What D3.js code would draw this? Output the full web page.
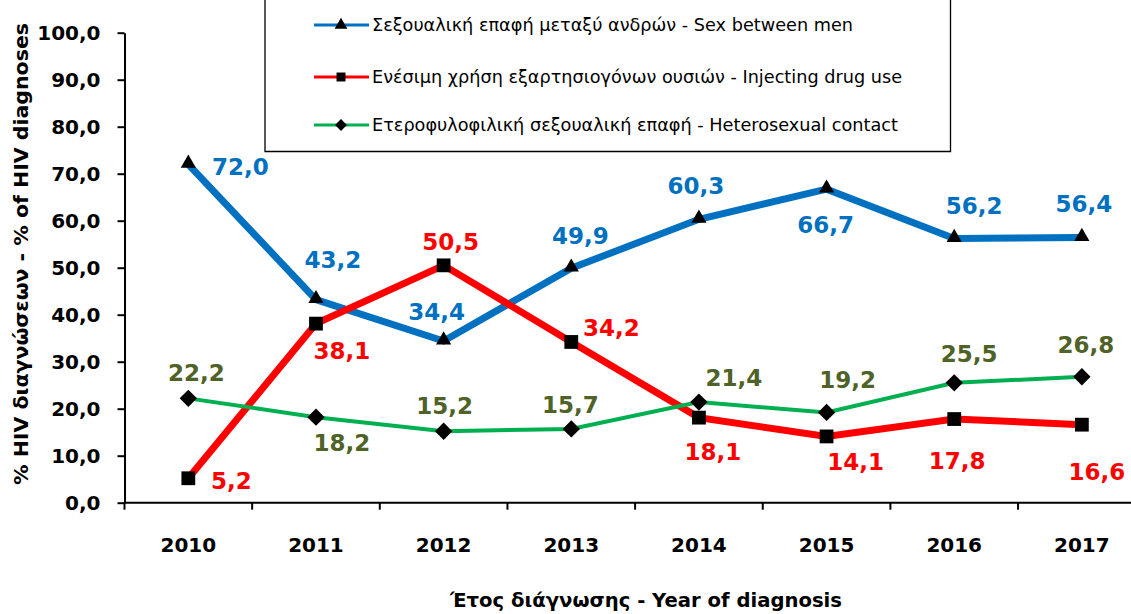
<!DOCTYPE html>
<html>
<head>
<meta charset="utf-8">
<script src="https://cdn.jsdelivr.net/npm/d3@7"></script>
<style>
  body { margin: 0; background: #fff; }
  svg { display: block; }
</style>
</head>
<body>
<div id="chart"></div>
<script>
// data
const years = ['2010', '2011', '2012', '2013', '2014', '2015', '2016', '2017'];
const sexBetweenMen = [72.0, 43.2, 34.4, 49.9, 60.3, 66.7, 56.2, 56.4];
const injectingDrugUse = [5.2, 38.1, 50.5, 34.2, 18.1, 14.1, 17.8, 16.6];
const heterosexual = [22.2, 18.2, 15.2, 15.7, 21.4, 19.2, 25.5, 26.8];
const yTicks = [0, 10, 20, 30, 40, 50, 60, 70, 80, 90, 100];

const seriesNames = [
    'Σεξουαλική επαφή μεταξύ ανδρών - Sex between men',
    'Ενέσιμη χρήση εξαρτησιογόνων ουσιών - Injecting drug use',
    'Ετεροφυλοφιλική σεξουαλική επαφή - Heterosexual contact'
];

// label placement relative to the point (layout only)
const labelOffsets = [
    [[52, 2], [17, -40], [-7, -29], [9, -32], [-3, -34], [-1, 36], [20, -33], [2, -34]],
    [[43, 2], [26, 27], [7, -24], [40, -14], [14, 34], [29, 25], [3, 42], [15, 47]],
    [[8, -26], [26, 26], [1, -26], [-1, -24], [35, -24], [21, -33], [15, -29], [4, -32]]
];

const width = 1131, height = 614;
const margin = { left: 124.5, top: 32.7, bottom: 502.7 };
const band = 127.65;

const svg = d3.select('#chart')
    .append('svg')
    .attr('width', width)
    .attr('height', height);

const x = d3.scaleBand()
    .domain(years)
    .range([margin.left, margin.left + band * years.length]);

const xEdge = d3.scaleLinear()
    .domain([0, years.length])
    .range([margin.left, margin.left + band * years.length]);

const y = d3.scaleLinear()
    .domain([0, 100])
    .range([margin.bottom, margin.top]);

const fmt = v => d3.format('.1f')(v).replace('.', ',');
const cx = (d, i) => x(years[i]) + x.bandwidth() / 2;

// rotated square for the diamond marker
const diamond = {
    draw(ctx, size) {
        const r = Math.sqrt(size / 2);
        ctx.moveTo(0, -r);
        ctx.lineTo(r, 0);
        ctx.lineTo(0, r);
        ctx.lineTo(-r, 0);
        ctx.closePath();
    }
};

// y axis
const yAxis = svg.append('g')
    .attr('transform', `translate(${margin.left},0)`)
    .call(d3.axisLeft(y).tickValues(yTicks).tickSize(7).tickSizeOuter(0).tickPadding(17).tickFormat(fmt));
yAxis.select('.domain').attr('stroke', '#000').attr('stroke-width', 2);
yAxis.selectAll('.tick line').attr('stroke', '#000').attr('stroke-width', 2);
yAxis.selectAll('.tick text')
    .attr('fill', '#000')
    .style('font-family', '"DejaVu Sans", Verdana, sans-serif')
    .style('font-weight', 'bold')
    .style('font-size', '20px');

// x axis
svg.append('line')
    .attr('x1', margin.left).attr('x2', width)
    .attr('y1', margin.bottom).attr('y2', margin.bottom)
    .attr('stroke', '#000').attr('stroke-width', 2);

svg.append('g')
    .selectAll('line')
    .data(d3.range(years.length + 1))
    .enter().append('line')
    .attr('x1', d => xEdge(d)).attr('x2', d => xEdge(d))
    .attr('y1', margin.bottom).attr('y2', margin.bottom + 7)
    .attr('stroke', '#000').attr('stroke-width', 2);

svg.append('g')
    .selectAll('text')
    .data(years)
    .enter().append('text')
    .attr('x', d => x(d) + x.bandwidth() / 2)
    .attr('y', 552)
    .attr('text-anchor', 'middle')
    .style('font-family', '"DejaVu Sans", Verdana, sans-serif')
    .style('font-weight', 'bold')
    .style('font-size', '20px')
    .text(d => d);

// axis titles
svg.append('text')
    .attr('x', 646)
    .attr('y', 607)
    .attr('text-anchor', 'middle')
    .attr('textLength', 392)
    .attr('lengthAdjust', 'spacingAndGlyphs')
    .style('font-family', '"DejaVu Sans", Verdana, sans-serif')
    .style('font-weight', 'bold')
    .style('font-size', '19px')
    .text('Έτος διάγνωσης - Year of diagnosis');

svg.append('text')
    .attr('transform', 'translate(28,254) rotate(-90)')
    .attr('text-anchor', 'middle')
    .attr('textLength', 462)
    .attr('lengthAdjust', 'spacingAndGlyphs')
    .style('font-family', '"DejaVu Sans", Verdana, sans-serif')
    .style('font-weight', 'bold')
    .style('font-size', '20px')
    .text('% HIV διαγνώσεων - % of HIV diagnoses');

// series
const series = [
    { name: seriesNames[0], values: sexBetweenMen, color: '#0070C0', labelColor: '#0070C0', lineWidth: 7, marker: d3.symbolTriangle, markerSize: 100, legendSize: 70 },
    { name: seriesNames[1], values: injectingDrugUse, color: '#FF0000', labelColor: '#FF0000', lineWidth: 7, marker: d3.symbolSquare, markerSize: 190, legendSize: 80 },
    { name: seriesNames[2], values: heterosexual, color: '#00B050', labelColor: '#4F6228', lineWidth: 4, marker: diamond, markerSize: 150, legendSize: 70 }
];

const line = d3.line()
    .x(cx)
    .y(d => y(d));

series.forEach(s => {
    const g = svg.append('g').attr('class', 'series');
    g.append('path')
        .datum(s.values)
        .attr('fill', 'none')
        .attr('stroke', s.color)
        .attr('stroke-width', s.lineWidth)
        .attr('stroke-linejoin', 'miter')
        .attr('d', line);

    g.selectAll('path.marker')
        .data(s.values)
        .enter().append('path')
        .attr('class', 'marker')
        .attr('d', d3.symbol().type(s.marker).size(s.markerSize))
        .attr('transform', (d, i) => {
            const dy = s.marker === d3.symbolTriangle ? -1 : 0;
            return `translate(${cx(d, i)},${y(d) + dy})`;
        })
        .attr('fill', '#000');
});

series.forEach((s, si) => {
    svg.append('g')
        .selectAll('text')
        .data(s.values)
        .enter().append('text')
        .attr('x', (d, i) => cx(d, i) + labelOffsets[si][i][0])
        .attr('y', (d, i) => y(d) + labelOffsets[si][i][1])
        .attr('dy', '0.36em')
        .attr('text-anchor', 'middle')
        .attr('fill', s.labelColor)
        .style('font-family', '"DejaVu Sans", Tahoma, sans-serif')
        .style('font-weight', 'bold')
        .style('font-size', '23px')
        .text(d => fmt(d));
});

// legend
const legend = svg.append('g');
legend.append('path')
    .attr('d', 'M265,-2 V151.5 H950.5 V-2')
    .attr('fill', 'none')
    .attr('stroke', '#000')
    .attr('stroke-width', 1.3);

const legendRows = [25, 77, 125];
const legendWidths = [481, 530, 526];
series.forEach((s, si) => {
    const row = legend.append('g').attr('transform', `translate(0,${legendRows[si]})`);
    row.append('line')
        .attr('x1', 314).attr('x2', 369)
        .attr('y1', 0).attr('y2', 0)
        .attr('stroke', s.color)
        .attr('stroke-width', 3);
    row.append('path')
        .attr('d', d3.symbol().type(s.marker).size(s.legendSize))
        .attr('transform', 'translate(341,0)')
        .attr('fill', '#000');
    row.append('text')
        .attr('x', 372)
        .attr('y', 0)
        .attr('dy', '0.35em')
        .attr('textLength', legendWidths[si])
        .attr('lengthAdjust', 'spacingAndGlyphs')
        .style('font-family', '"DejaVu Sans", Tahoma, sans-serif')
        .style('font-size', '17px')
        .attr('fill', '#000')
        .text(s.name);
});
</script>
</body>
</html>
